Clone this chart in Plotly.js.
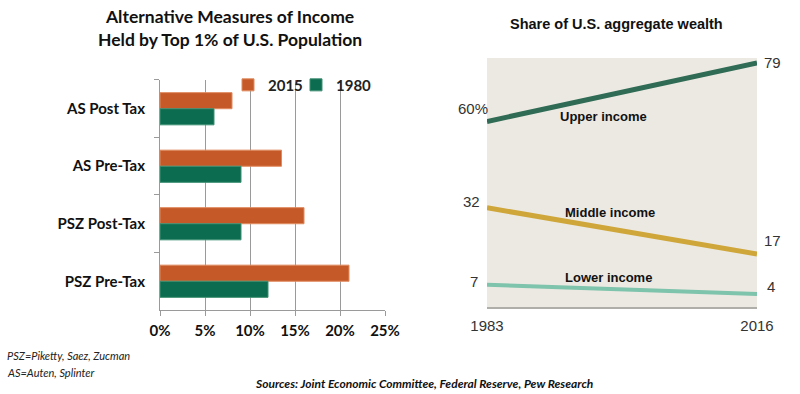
<!DOCTYPE html>
<html><head><meta charset="utf-8">
<script src="https://cdn.plot.ly/plotly-3.0.1.min.js"></script>
<style>html,body{margin:0;padding:0;background:#fff}#c{width:800px;height:394px}</style>
</head><body><div id="c"></div>
<script>
// Left chart data
const measures = ["AS Post Tax", "AS Pre-Tax", "PSZ Post-Tax", "PSZ Pre-Tax"];
const share2015 = [8, 13.5, 16, 21];
const share1980 = [6, 9, 9, 12];
const pctTicks = [0, 5, 10, 15, 20, 25];
const pctTickLabels = ["0%", "5%", "10%", "15%", "20%", "25%"];

// Right chart data
const years = [1983, 2016];
const upperIncome = [60, 79];
const middleIncome = [32, 17];
const lowerIncome = [7, 4];
const yearLabels = ["1983", "2016"];

const orange = "#C55A28", green = "#0B6C4F";
const cUpper = "#2F6B55", cMiddle = "#CFA63A", cLower = "#7EC3AC";
const calib = "Lato, 'Open Sans', sans-serif";
const arial = "'Liberation Sans', Arial, sans-serif";

const traces = [
  {type:"bar", orientation:"h", name:"2015", y:measures, x:share2015, legend:"legend",
   marker:{color:orange, line:{color:"#E08A5E", width:1}}, xaxis:"x", yaxis:"y", hoverinfo:"none"},
  {type:"bar", orientation:"h", name:"1980", y:measures, x:share1980, legend:"legend2",
   marker:{color:green, line:{color:"#3E8F73", width:1}}, xaxis:"x", yaxis:"y", hoverinfo:"none"},
  {type:"scatter", mode:"lines", x:years, y:upperIncome, line:{color:cUpper, width:5},
   xaxis:"x2", yaxis:"y2", showlegend:false, hoverinfo:"none"},
  {type:"scatter", mode:"lines", x:years, y:middleIncome, line:{color:cMiddle, width:5},
   xaxis:"x2", yaxis:"y2", showlegend:false, hoverinfo:"none"},
  {type:"scatter", mode:"lines", x:years, y:lowerIncome, line:{color:cLower, width:4},
   xaxis:"x2", yaxis:"y2", showlegend:false, hoverinfo:"none"}
];

function valAnn(x, y, text, anchor, xs, ys) {
  return {xref:"x2", yref:"y2", x:x, y:y, text:text, showarrow:false, xanchor:anchor, yanchor:"middle",
          xshift:xs, yshift:ys, font:{family:arial, size:15, color:"#333"}};
}
function lineAnn(x, y, text) {
  return {xref:"x2", yref:"y2", x:x, y:y, text:text, showarrow:false, xanchor:"center", yanchor:"middle",
          font:{family:arial, size:13, color:"#111", weight:"bold"}};
}
function legendAt(px) {
  return {orientation:"h", x:px/800, y:0.784, xanchor:"left", yanchor:"middle",
          font:{family:calib, size:15, color:"#222", weight:"bold"}, bgcolor:"rgba(0,0,0,0)", itemwidth:30};
}

const layout = {
  width:800, height:394, margin:{l:0,r:0,t:0,b:0},
  paper_bgcolor:"#fff", plot_bgcolor:"rgba(0,0,0,0)",
  barmode:"group", bargap:0.44, bargroupgap:0,
  showlegend:true,
  legend:legendAt(228),
  legend2:legendAt(296),
  xaxis:{domain:[0.2, 0.48125], anchor:"y", range:[0,25], tickvals:pctTicks, ticktext:pctTickLabels,
         showgrid:true, gridcolor:"#9a9a9a", gridwidth:1, zeroline:false,
         showline:true, linecolor:"#9a9a9a", ticks:"outside", ticklen:5, tickcolor:"#9a9a9a",
         tickfont:{family:calib, size:15, color:"#111", weight:"bold"}, ticklabelstandoff:2, fixedrange:true},
  yaxis:{domain:[0.2132, 0.797], anchor:"x", type:"category", categoryorder:"array", categoryarray:measures,
         autorange:"reversed", showgrid:false, showline:true, linecolor:"#9a9a9a",
         ticks:"outside", tickson:"boundaries", ticklen:5, tickcolor:"#9a9a9a", ticklabelstandoff:11,
         tickfont:{family:calib, size:15, color:"#111", weight:"bold"}, fixedrange:true},
  xaxis2:{domain:[0.60875, 0.94625], anchor:"y2", range:[1983, 2016], tickvals:years, ticktext:yearLabels,
          showgrid:false, zeroline:false, showline:true, linecolor:"#b0aea8", linewidth:2,
          ticks:"", tickfont:{family:arial, size:15, color:"#333"}, ticklabelstandoff:4, fixedrange:true},
  yaxis2:{domain:[0.2208, 0.8528], anchor:"x2", range:[-0.2, 80.6], showgrid:false, zeroline:false,
          showticklabels:false, showline:false, fixedrange:true},
  shapes:[
    {type:"rect", xref:"x2 domain", yref:"y2 domain", x0:0, x1:1, y0:0, y1:1,
     fillcolor:"#ECE9E2", line:{width:0}, layer:"below"}
  ],
  annotations:[
    {xref:"paper", yref:"paper", x:230/800, y:1-28/394, text:"Alternative Measures of Income<br>Held by Top 1% of U.S. Population",
     showarrow:false, xanchor:"center", yanchor:"middle", align:"center",
     font:{family:calib, size:17.5, color:"#111", weight:"bold"}},
    {xref:"paper", yref:"paper", x:616/800, y:1-24/394, text:"Share of U.S. aggregate wealth",
     showarrow:false, xanchor:"center", yanchor:"middle",
     font:{family:arial, size:14.5, color:"#111", weight:"bold"}},
    valAnn(years[0], upperIncome[0], "60%", "right", 3, 13),
    valAnn(years[0], middleIncome[0], "32", "right", -5, 6),
    valAnn(years[0], lowerIncome[0], "7", "right", -7, 3),
    valAnn(years[1], upperIncome[1], "79", "left", 5, 0),
    valAnn(years[1], middleIncome[1], "17", "left", 5, 13),
    valAnn(years[1], lowerIncome[1], "4", "left", 8, 8),
    lineAnn(1997.2, 61.5, "Upper income"),
    lineAnn(1998.0, 30.6, "Middle income"),
    lineAnn(1997.9, 9.5, "Lower income"),
    {xref:"paper", yref:"paper", x:5/800, y:1-355/394, text:"PSZ=Piketty, Saez, Zucman", showarrow:false,
     xanchor:"left", yanchor:"middle", font:{family:calib, size:11, color:"#222", style:"italic"}},
    {xref:"paper", yref:"paper", x:5/800, y:1-372/394, text:"AS=Auten, Splinter", showarrow:false,
     xanchor:"left", yanchor:"middle", font:{family:calib, size:11, color:"#222", style:"italic"}},
    {xref:"paper", yref:"paper", x:424/800, y:1-383/394, text:"Sources: Joint Economic Committee, Federal Reserve, Pew Research",
     showarrow:false, xanchor:"center", yanchor:"middle",
     font:{family:calib, size:12, color:"#111", style:"italic", weight:"bold"}}
  ]
};
Plotly.newPlot("c", traces, layout, {displayModeBar:false, staticPlot:true});
</script></body></html>
